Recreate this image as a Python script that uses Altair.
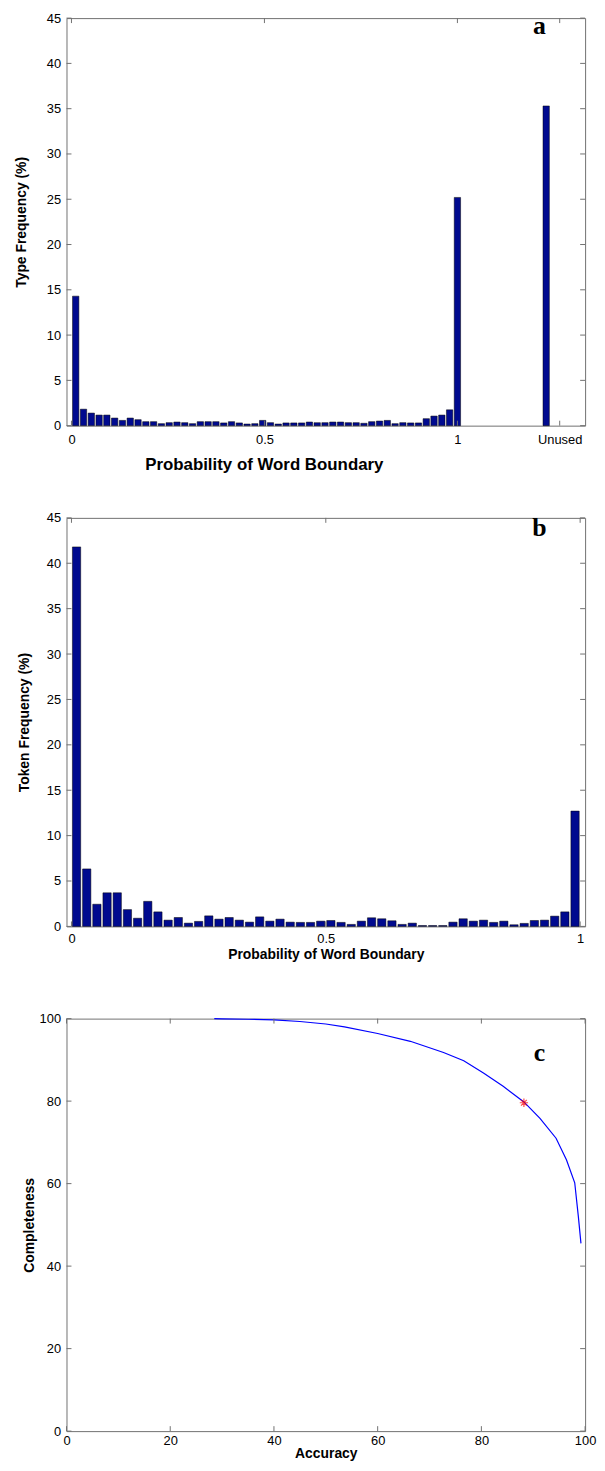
import altair as alt
import pandas as pd
import numpy as np

# ---------------- Panel a: type frequency ----------------
type_bin_centers = [round(v, 4) for v in np.linspace(0.011, 1.0, 50)]
type_freq = [14.3, 1.82, 1.39, 1.17, 1.17, 0.84, 0.58, 0.84, 0.66, 0.44,
             0.44, 0.22, 0.33, 0.40, 0.33, 0.22, 0.44, 0.44, 0.44, 0.30,
             0.44, 0.30, 0.18, 0.22, 0.58, 0.33, 0.18, 0.30, 0.30, 0.30,
             0.40, 0.33, 0.33, 0.40, 0.40, 0.33, 0.33, 0.26, 0.44, 0.51,
             0.58, 0.22, 0.33, 0.30, 0.30, 0.77, 1.06, 1.17, 1.75, 25.2]
unused_x = 1.23
unused_freq = 35.3
type_xticks = [0, 0.5, 1, 1.265]

# ---------------- Panel b: token frequency ----------------
token_bin_centers = [round(v, 4) for v in np.linspace(0.01, 0.99, 50)]
token_freq = [41.8, 6.33, 2.44, 3.70, 3.70, 1.85, 0.90, 2.76, 1.60, 0.69,
              0.98, 0.36, 0.55, 1.16, 0.80, 0.98, 0.69, 0.47, 1.05, 0.58,
              0.80, 0.47, 0.44, 0.44, 0.58, 0.65, 0.44, 0.22, 0.58, 0.95,
              0.84, 0.62, 0.22, 0.36, 0.10, 0.10, 0.10, 0.47, 0.84, 0.58,
              0.69, 0.44, 0.58, 0.18, 0.33, 0.65, 0.69, 1.13, 1.60, 12.7]
token_xticks = [0, 0.5, 1]
freq_yticks = [0, 5, 10, 15, 20, 25, 30, 35, 40, 45]

# ---------------- Panel c: accuracy vs completeness ----------------
accuracy = [28.5, 30, 35, 40, 45, 50, 53.6, 60, 66.3, 72.7, 76.6, 80.4,
            84.2, 88.2, 91.3, 94.4, 96.4, 98.0, 98.7, 99.2]
completeness = [100, 99.95, 99.85, 99.7, 99.3, 98.7, 98.0, 96.4, 94.5, 91.8,
                89.8, 86.8, 83.6, 79.8, 75.8, 71.0, 65.8, 60.2, 52.0, 45.5]
star_acc = [88.2]
star_comp = [79.6]
pct_ticks = [0, 20, 40, 60, 80, 100]

W = 523
BAR_FILL = "#000a8f"
AX = "#707070"
LABEL_FONT = "Liberation Sans"


def tick_layers(xticks, yticks, xenc, yenc, H):
    tx = pd.DataFrame({xenc.shorthand.split(":")[0]: xticks})
    ty = pd.DataFrame({yenc.shorthand.split(":")[0]: yticks})
    base_x = alt.Chart(tx).mark_rule(color=AX, strokeWidth=1)
    base_y = alt.Chart(ty).mark_rule(color=AX, strokeWidth=1)
    xb = base_x.encode(x=xenc, y=alt.value(H), y2=alt.value(H - 5))
    xt = base_x.encode(x=xenc, y=alt.value(0), y2=alt.value(5))
    yl = base_y.encode(y=yenc, x=alt.value(0), x2=alt.value(5))
    yr = base_y.encode(y=yenc, x=alt.value(W), x2=alt.value(W - 5))
    return [xb, xt, yl, yr]


def letter_layer(letter, y):
    return alt.Chart(pd.DataFrame({"t": [letter]})).mark_text(
        font="Liberation Serif", fontSize=26, fontWeight="bold", color="black",
        baseline="middle", align="center"
    ).encode(text="t:N", x=alt.value(477), y=alt.value(y))


# ----- panel a -----
H_a = 411
xa = alt.X("x:Q", scale=alt.Scale(domain=[0, 1.318], nice=False, zero=False),
           axis=alt.Axis(values=type_xticks, format="~g",
                         labelExpr="datum.value > 1.1 ? 'Unused' : datum.label",
                         title="Probability of Word Boundary", labelPadding=8,
                         titleX=199, titleY=39, titleBaseline="middle",
                         titleFontSize=17))
ya = alt.Y("f:Q", scale=alt.Scale(domain=[0, 45], nice=False),
           axis=alt.Axis(values=freq_yticks, title="Type Frequency (%)", labelPadding=6,
                         titleX=-45, titleY=H_a / 2, titleBaseline="middle"))
df_a = pd.DataFrame({"x": type_bin_centers + [unused_x],
                     "f": type_freq + [unused_freq]})
bars_a = alt.Chart(df_a).mark_bar(
    size=6.4, orient="vertical", color=BAR_FILL, stroke="black", strokeWidth=0.5
).encode(x=xa, y=ya)
panel_a = alt.layer(bars_a, *tick_layers(type_xticks, freq_yticks, xa, ya, H_a),
                    letter_layer("a", 8)).properties(width=W, height=H_a)

# ----- panel b -----
H_b = 412
xb_ = alt.X("x:Q", scale=alt.Scale(domain=[0, 1], nice=False, zero=False),
            axis=alt.Axis(values=token_xticks, format="~g",
                          title="Probability of Word Boundary", labelPadding=6,
                          titleY=28, titleBaseline="middle"))
yb_ = alt.Y("f:Q", scale=alt.Scale(domain=[0, 45], nice=False),
            axis=alt.Axis(values=freq_yticks, title="Token Frequency (%)", labelPadding=6,
                          titleX=-42, titleY=H_b / 2, titleBaseline="middle"))
df_b = pd.DataFrame({"x": token_bin_centers, "f": token_freq})
bars_b = alt.Chart(df_b).mark_bar(
    size=8.35, orient="vertical", color=BAR_FILL, stroke="black", strokeWidth=0.5
).encode(x=xb_, y=yb_)
panel_b = alt.layer(bars_b, *tick_layers(token_xticks, freq_yticks, xb_, yb_, H_b),
                    letter_layer("b", 10)).properties(width=W, height=H_b)

# ----- panel c -----
H_c = 416
xc = alt.X("acc:Q", scale=alt.Scale(domain=[0, 100], nice=False),
           axis=alt.Axis(values=pct_ticks, title="Accuracy", labelPadding=4,
                         titleY=23, titleBaseline="middle"))
yc = alt.Y("comp:Q", scale=alt.Scale(domain=[0, 100], nice=False),
           axis=alt.Axis(values=pct_ticks, title="Completeness", labelPadding=6,
                         titleX=-37, titleY=H_c / 2, titleBaseline="middle"))
df_c = pd.DataFrame({"acc": accuracy, "comp": completeness})
line_c = alt.Chart(df_c).mark_line(color="#0000ff", strokeWidth=1.2).encode(x=xc, y=yc)
star_shape = "M-1,0L1,0M0,-1L0,1M-0.7,-0.7L0.7,0.7M-0.7,0.7L0.7,-0.7"
star_c = alt.Chart(pd.DataFrame({"acc": star_acc, "comp": star_comp})).mark_point(
    shape=star_shape, size=70, color="#ff0000", filled=False, strokeWidth=1.2
).encode(x=xc, y=yc)
panel_c = alt.layer(line_c, star_c, *tick_layers(pct_ticks, pct_ticks, xc, yc, H_c),
                    letter_layer("c", 35)).properties(width=W, height=H_c)

chart = alt.vconcat(panel_a, panel_b, panel_c, spacing=93, bounds="flush").properties(
    padding={"left": 6, "top": -3, "right": 0, "bottom": 0}
).configure_view(
    stroke=AX, strokeWidth=1
).configure_axis(
    domain=False, ticks=False, grid=False, labelFlush=False,
    labelFont=LABEL_FONT, labelFontSize=13, labelColor="black",
    titleFont=LABEL_FONT, titleFontSize=14, titleFontWeight="bold", titleColor="black",
)

chart.save("out.html", embed_options={"renderer": "svg", "actions": False})
